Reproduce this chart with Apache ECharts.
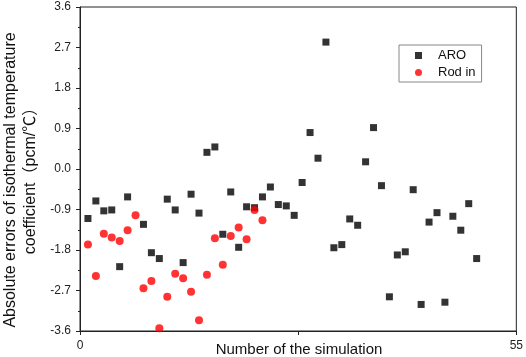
<!DOCTYPE html>
<html>
<head>
<meta charset="utf-8">
<script src="https://cdn.jsdelivr.net/npm/echarts@6/dist/echarts.min.js"></script>
<style>html,body{margin:0;padding:0;background:#fff;}#c{width:526px;height:357px;}</style>
</head>
<body>
<div id="c"></div>
<script>
var aroSim = [1,2,3,4,5,6,8,9,10,11,12,13,14,15,16,17,18,19,20,21,22,23,24,25,26,27,28,29,30,31,32,33,34,35,36,37,38,39,40,41,42,43,44,45,46,47,48,49,50];
var aroErr = [-1.10,-0.71,-0.93,-0.91,-2.17,-0.62,-1.23,-1.86,-1.99,-0.67,-0.91,-2.08,-0.56,-0.98,0.37,0.49,-1.45,-0.51,-1.74,-0.84,-0.86,-0.62,-0.40,-0.79,-0.82,-1.03,-0.30,0.81,0.24,2.82,-1.75,-1.68,-1.11,-1.25,0.16,0.92,-0.37,-2.84,-1.91,-1.84,-0.46,-3.01,-1.18,-0.97,-2.96,-1.05,-1.36,-0.77,-1.99];
var rodSim = [1,2,3,4,5,6,7,8,9,10,11,12,13,14,15,16,17,18,19,20,21,22,23];
var rodErr = [-1.68,-2.38,-1.44,-1.52,-1.60,-1.36,-1.03,-2.65,-2.49,-3.54,-2.84,-2.33,-2.43,-2.73,-3.36,-2.35,-1.54,-2.13,-1.49,-1.30,-1.56,-0.91,-1.14];
var seriesNames = ['ARO', 'Rod in'];
var xTitle = 'Number of the simulation';
var yTitle1 = 'Absolute errors of isothermal temperature';
var yTitle2 = 'coefficient（pcm/℃）';

function pairs(xs, ys){ return xs.map(function(x,i){ return [x, ys[i]]; }); }
var FONT = '"Liberation Sans", Arial, "Noto Sans CJK SC", sans-serif';

var chart = echarts.init(document.getElementById('c'), null, {renderer:'canvas'});
chart.setOption({
  animation: false,
  backgroundColor: '#fff',
  grid: {left: 80, top: 7, width: 438, height: 324, show: true, borderColor: '#222', borderWidth: 1, backgroundColor: 'transparent'},
  xAxis: {
    type: 'value', min: 0, max: 55, interval: 27.5,
    axisLine: {show: true, onZero: false, lineStyle: {color: '#222', width: 1}},
    axisTick: {show: true, inside: false, length: 4, lineStyle: {color: '#222'}},
    axisLabel: {margin: 9, fontSize: 12, color: '#222', fontFamily: FONT,
      formatter: function(v){ return (v === 0 || v === 55) ? String(v) : ''; }},
    splitLine: {show: false}
  },
  yAxis: {
    type: 'value', min: -3.6, max: 3.6, interval: 0.9,
    axisLine: {show: true, onZero: false, lineStyle: {color: '#222', width: 1}},
    axisTick: {show: true, inside: false, length: 4, lineStyle: {color: '#222'}},
    minorTick: {show: true, splitNumber: 2, length: 2, lineStyle: {color: '#222'}},
    axisLabel: {margin: 9, fontSize: 12, color: '#222', fontFamily: FONT,
      formatter: function(v){ return v.toFixed(1); }},
    splitLine: {show: false}
  },
  legend: {
    orient: 'vertical', left: 399, top: 45,
    padding: [3, 6, 2, 16],
    itemWidth: 7, itemHeight: 7, itemGap: 2,
    borderColor: '#888', borderWidth: 1,
    textStyle: {fontSize: 13, color: '#111', fontFamily: FONT, padding: [0,0,0,11], lineHeight: 15},
    data: [{name: seriesNames[0], icon: 'rect'}, {name: seriesNames[1], icon: 'circle'}]
  },
  graphic: [
    {type: 'text', x: 299, y: 350, style: {text: xTitle, fontSize: 15, fontFamily: FONT, fill: '#111', align: 'center', verticalAlign: 'middle'}},
    {type: 'text', x: 11, y: 180, rotation: Math.PI/2, style: {text: yTitle1, fontSize: 16, fontFamily: FONT, fill: '#111', align: 'center', verticalAlign: 'middle'}},
    {type: 'text', x: 31, y: 177, rotation: Math.PI/2, style: {text: yTitle2, fontSize: 16, fontFamily: FONT, fill: '#111', align: 'center', verticalAlign: 'middle'}}
  ],
  series: [
    {name: seriesNames[0], type: 'scatter', symbol: 'rect', symbolSize: 7, itemStyle: {color: '#000'}, data: pairs(aroSim, aroErr)},
    {name: seriesNames[1], type: 'scatter', symbol: 'circle', symbolSize: 8, itemStyle: {color: '#ff0000'}, data: pairs(rodSim, rodErr)}
  ]
});
</script>
</body>
</html>
